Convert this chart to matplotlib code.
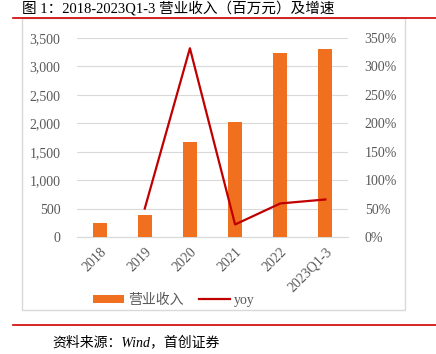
"""
营业收入及增速 chart, 2018-2023Q1-3
"""
import matplotlib
matplotlib.use("Agg")
import matplotlib.pyplot as plt
from matplotlib.patches import Rectangle
from matplotlib.lines import Line2D
from matplotlib.ticker import FuncFormatter

#fonts: serif for numbers, CJK fallback for chinese
plt.rcParams['font.family'] = ['Liberation Serif', 'Noto Sans CJK SC']

years = ['2018', '2019', '2020', '2021', '2022', '2023Q1-3']
revenue = [255, 385, 1665, 2030, 3240, 3310]
yoy_years = ['2019', '2020', '2021', '2022', '2023Q1-3']
yoy = [50, 332, 22, 59, 66]

BAR_COLOR = '#F07020'
LINE_COLOR = '#C00000'
TICK_COLOR = '#595959'
GRID_COLOR = '#D9D9D9'

fig = plt.figure(figsize=(4.36, 3.54), dpi=100)

#outer chart box and red rules
fig.patches.append(Rectangle((22/436, 1-310/354), (405-22)/436, (310-18)/354,
                             transform=fig.transFigure, fill=False,
                             edgecolor='#D9D9D9', linewidth=1.0))
fig.add_artist(Line2D([13/436, 1], [1-18/354, 1-18/354], transform=fig.transFigure,
                      color='#D00000', linewidth=1.2))
fig.add_artist(Line2D([13/436, 1], [1-325/354, 1-325/354], transform=fig.transFigure,
                      color='#D00000', linewidth=1.2))

fig.text(22/436, 1-8/354, '图 1：2018-2023Q1-3 营业收入（百万元）及增速',
         fontsize=10.5, va='center', ha='left', color='black')
fig.text(52/436, 1-342/354, '资料来源：Wind，首创证券', fontsize=10,
         va='center', ha='left', style='italic', color='black')

ax = fig.add_axes([77/436, 1-237/354, (348-77)/436, (237-38)/354])
x = list(range(len(years)))
bars = ax.bar(x, revenue, width=0.31, color=BAR_COLOR, zorder=3, label='营业收入')
ax.set_xlim(-0.5, len(years)-0.5)
ax.set_ylim(0, 3500)
ax.set_yticks(range(0, 3501, 500))
ax.yaxis.set_major_formatter(FuncFormatter(lambda v, p: f'{int(v):,}'))
ax.grid(axis='y', color=GRID_COLOR, linewidth=0.8, zorder=0)
for s in ax.spines.values():
    s.set_visible(False)
ax.spines['bottom'].set_visible(True)
ax.spines['bottom'].set_color(GRID_COLOR)
ax.tick_params(axis='both', length=0, labelsize=10, colors=TICK_COLOR, pad=12)
ax.set_xticks(x)
ax.set_xticklabels(years, rotation=45, ha='right', rotation_mode='anchor')
ax.tick_params(axis='x', pad=6)

ax2 = ax.twinx()
xi = [years.index(y) for y in yoy_years]
line, = ax2.plot(xi, yoy, color=LINE_COLOR, linewidth=1.6, zorder=4, label='yoy')
ax2.set_ylim(0, 350)
ax2.set_yticks(range(0, 351, 50))
ax2.yaxis.set_major_formatter(FuncFormatter(lambda v, p: f'{int(v)}%'))
for s in ax2.spines.values():
    s.set_visible(False)
ax2.tick_params(axis='y', length=0, labelsize=10, colors=TICK_COLOR, pad=12)

fig.legend([bars, line], ['营业收入', 'yoy'], loc='center', ncol=2,
           bbox_to_anchor=(174/436, 1-300/354), frameon=False,
           prop={'size': 10}, labelcolor=TICK_COLOR, handlelength=2.2,
           handleheight=0.5, columnspacing=1.1, handletextpad=0.3)

fig.savefig('out.png', dpi=100)
